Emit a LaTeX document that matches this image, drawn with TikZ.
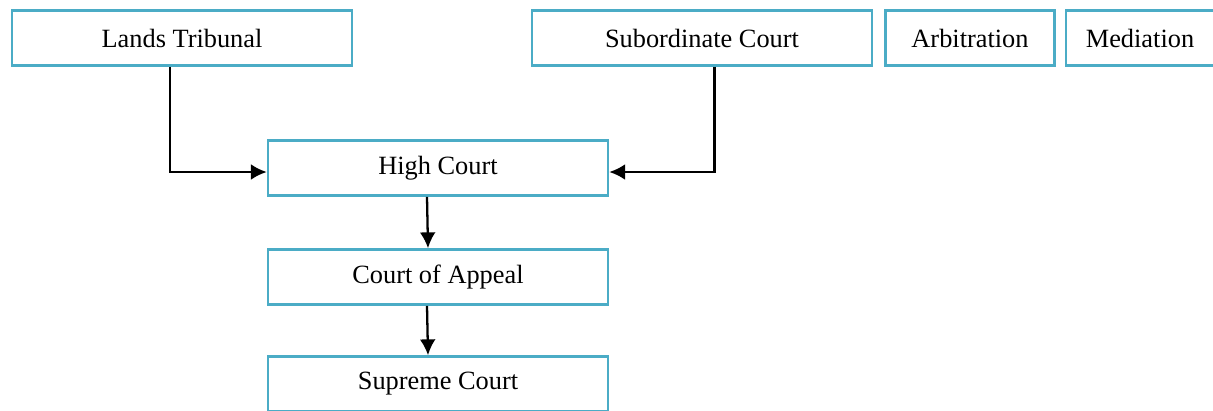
\documentclass[tikz,border=0pt]{standalone}
\usepackage{fontspec}
\setmainfont{Liberation Serif}
\usetikzlibrary{arrows.meta}
\definecolor{boxblue}{RGB}{75,172,198}
\tikzset{court/.style={draw=boxblue, line width=1.5pt, minimum height=1.1cm, inner sep=0pt, font=\fontsize{15}{18}\selectfont},
         link/.style={->, line width=1.3pt}}
\begin{document}
\begin{tikzpicture}[>={Latex[length=9pt,width=9pt]}, x=0.02cm, y=-0.02cm]
    \useasboundingbox (0,0) rectangle (1213,410);
    \node[court, minimum width=6.8cm] (lands) at (182,38) {Lands Tribunal};
    \node[court, minimum width=6.8cm] (sub) at (702,38) {Subordinate Court};
    \node[court, minimum width=3.38cm] (arb) at (970,38) {Arbitration};
    \node[court, minimum width=2.96cm] (med) at (1140,38) {Mediation};
    \node[court, minimum width=6.8cm] (high) at (438,168) {High Court};
    \node[court, minimum width=6.8cm] (appeal) at (438,277) {Court of Appeal};
    \node[court, minimum width=6.8cm] (supreme) at (438,384) {Supreme Court};
    \draw[link] ([xshift=-0.24cm]lands.south) |- ([yshift=-0.08cm]high.west);
    \draw[link] ([xshift=0.25cm]sub.south) |- ([yshift=-0.08cm]high.east);
    \draw[link] ([xshift=-0.22cm]high.south) -- ([xshift=-0.2cm]appeal.north);
    \draw[link] ([xshift=-0.22cm]appeal.south) -- ([xshift=-0.2cm]supreme.north);
\end{tikzpicture}
\end{document}
